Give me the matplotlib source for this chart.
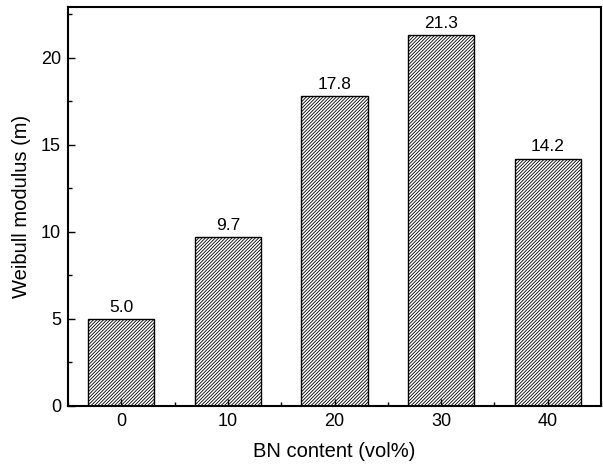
import numpy as np
import matplotlib.pyplot as plt
from matplotlib.ticker import MultipleLocator

plt.rcParams['font.family'] = ['Liberation Sans', 'DejaVu Sans']
plt.rcParams['hatch.linewidth'] = 0.6
plt.rcParams['hatch.color'] = '#333333'

bn_content = [0, 10, 20, 30, 40]
weibull_m = [5.0, 9.7, 17.8, 21.3, 14.2]
bar_labels = ['5.0', '9.7', '17.8', '21.3', '14.2']

fig = plt.figure(figsize=(6.03, 4.67), dpi=100)
ax = fig.add_axes([68 / 603, 61 / 467, 533 / 603, 399 / 467])

bars = ax.bar(bn_content, weibull_m, width=6.2, color='white',
              edgecolor='black', hatch='/' * 10, linewidth=1.0)
for b, lab in zip(bars, bar_labels):
    ax.text(b.get_x() + b.get_width() / 2, b.get_height() + 0.25, lab,
            ha='center', va='bottom', fontsize=12.5)

ax.set_xlim(-5, 45)
ax.set_ylim(0, 22.9)
ax.set_xticks(bn_content)
ax.set_yticks([0, 5, 10, 15, 20])
ax.xaxis.set_minor_locator(MultipleLocator(5))
ax.yaxis.set_minor_locator(MultipleLocator(2.5))
ax.tick_params(which='both', direction='in', top=False, right=False, labelsize=13)
ax.tick_params(which='major', length=5, width=1, pad=5)
ax.tick_params(which='minor', length=3, width=1)
for s in ax.spines.values():
    s.set_linewidth(1.5)

ax.set_xlabel('BN content (vol%)', fontsize=14.5, labelpad=9)
ax.set_ylabel('Weibull modulus (m)', fontsize=14.5, labelpad=7)

fig.savefig('out.png', dpi=100)
